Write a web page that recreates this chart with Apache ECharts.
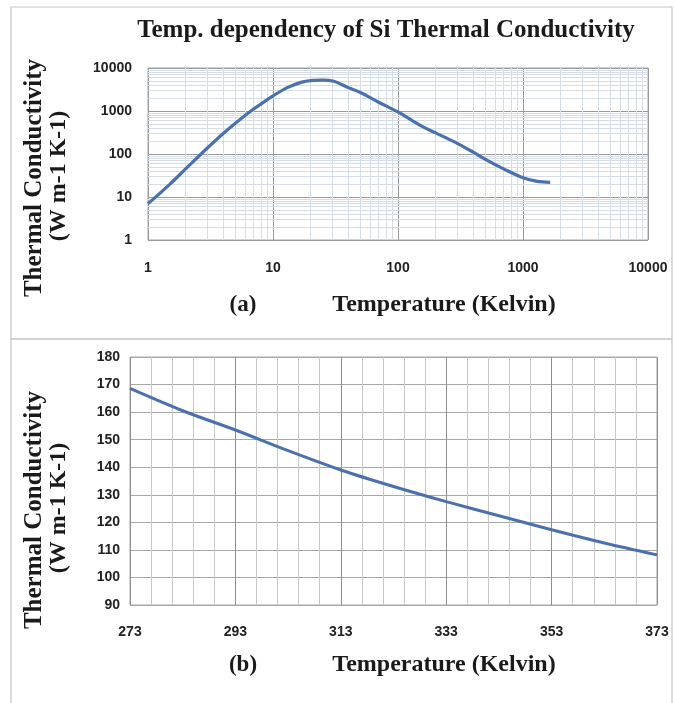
<!DOCTYPE html>
<html>
<head>
<meta charset="utf-8">
<script src="https://cdn.jsdelivr.net/npm/echarts@6/dist/echarts.min.js"></script>
<style>
html,body{margin:0;padding:0;background:#fff;}
#chart{width:675px;height:703px;}
</style>
</head>
<body>
<div id="chart"></div>
<script>
// ---- Data (a): log-log Si thermal conductivity ----
const topTemps = [1, 1.5, 2, 3, 4, 5, 6.5, 8, 10, 13, 17, 20, 25, 30, 40, 50, 70, 100, 130, 160, 200, 300, 400, 500, 700, 1000, 1300, 1650];
const topConductivity = [7, 20, 45, 140, 300, 520, 950, 1450, 2250, 3500, 4700, 5100, 5200, 5000, 3500, 2700, 1600, 950, 600, 420, 310, 175, 110, 75, 45, 28, 23, 22];
const topTickLabels = ['1', '10', '100', '1000', '10000'];
const topMinorGrid = [2,3,4,5,6,7,8,9, 20,30,40,50,60,70,80,90, 200,300,400,500,600,700,800,900, 2000,3000,4000,5000,6000,7000,8000,9000];

// ---- Data (b): 273-373 K ----
const bottomTemps = [273, 283, 293, 303, 313, 323, 333, 343, 353, 363, 373];
const bottomConductivity = [168.6, 160.5, 153.5, 146, 139, 133, 127.5, 122.4, 117.3, 112.5, 108.2];
const bottomXTicks = [273, 293, 313, 333, 353, 373];
const bottomYTicks = [90, 100, 110, 120, 130, 140, 150, 160, 170, 180];

const serif = "'Liberation Serif', 'Times New Roman', serif";
const sansNarrow = "'Liberation Sans Narrow', 'Liberation Sans', Arial, sans-serif";
const lineColor = '#4a70ad';

const chart = echarts.init(document.getElementById('chart'), null, {renderer: 'canvas'});

const tickLabel = {fontFamily: sansNarrow, fontWeight: 'bold', fontSize: 14, color: '#222'};

const option = {
  animation: false,
  backgroundColor: '#fff',
  title: {
    text: 'Temp. dependency of Si Thermal Conductivity',
    left: 381, top: 13, textAlign: 'center',
    textStyle: {fontFamily: serif, fontWeight: 'bold', fontSize: 25, color: '#1a1a1a'}
  },
  grid: [
    {left: 148, top: 68, width: 500, height: 172, show: true, borderColor: '#a6a6a6', borderWidth: 1, backgroundColor: '#fff'},
    {left: 130, top: 357, width: 527, height: 248, show: true, borderColor: '#a6a6a6', borderWidth: 1, backgroundColor: '#fff'}
  ],
  xAxis: [
    {
      gridIndex: 0, type: 'log', logBase: 10, min: 1, max: 10000,
      axisLine: {show: false}, axisTick: {show: false},
      axisLabel: Object.assign({margin: 21, formatter: v => topTickLabels[Math.round(Math.log10(v))]}, tickLabel),
      splitLine: {show: true, lineStyle: {color: '#9a9a9a', width: 1}}
    },
    {
      gridIndex: 1, type: 'value', min: 273, max: 373, interval: 20,
      axisLine: {show: false}, axisTick: {show: false},
      axisLabel: Object.assign({margin: 20, formatter: v => (bottomXTicks.includes(Math.round(v)) ? String(Math.round(v)) : '')}, tickLabel),
      splitLine: {show: true, lineStyle: {color: '#8f8f8f', width: 1}},
      minorTick: {show: false, splitNumber: 5},
      minorSplitLine: {show: true, lineStyle: {color: '#c8c8c8', width: 1}}
    }
  ],
  yAxis: [
    {
      gridIndex: 0, type: 'log', logBase: 10, min: 1, max: 10000,
      axisLine: {show: false}, axisTick: {show: false},
      axisLabel: Object.assign({margin: 16, formatter: v => topTickLabels[Math.round(Math.log10(v))]}, tickLabel),
      splitLine: {show: true, lineStyle: {color: '#9a9a9a', width: 1}}
    },
    {
      gridIndex: 1, type: 'value', min: 90, max: 180, interval: 10,
      axisLine: {show: false}, axisTick: {show: false},
      axisLabel: Object.assign({margin: 10, formatter: v => (bottomYTicks.includes(Math.round(v)) ? String(Math.round(v)) : '')}, tickLabel),
      splitLine: {show: true, lineStyle: {color: '#a8a8a8', width: 1}}
    }
  ],
  series: [
    {
      type: 'line', xAxisIndex: 0, yAxisIndex: 0, data: [], z: 1, silent: true,
      markLine: {
        silent: true, symbol: ['none', 'none'], animation: false,
        label: {show: false},
        lineStyle: {type: 'solid', color: '#d5dde8', width: 1},
        emphasis: {disabled: true},
        data: topMinorGrid.map(v => ({xAxis: v})).concat(topMinorGrid.map(v => ({yAxis: v})))
      }
    },
    {
      type: 'line', xAxisIndex: 0, yAxisIndex: 0, z: 5,
      data: topTemps.map((t, i) => [t, topConductivity[i]]),
      smooth: 0.35, showSymbol: false, symbol: 'none',
      lineStyle: {color: lineColor, width: 3.2}
    },
    {
      type: 'line', xAxisIndex: 1, yAxisIndex: 1, z: 5,
      data: bottomTemps.map((t, i) => [t, bottomConductivity[i]]),
      smooth: 0.3, showSymbol: false, symbol: 'none',
      lineStyle: {color: lineColor, width: 3}
    }
  ],
  graphic: [
    {type: 'rect', shape: {x: 11, y: 7, width: 661, height: 332}, style: {fill: 'none', stroke: '#c4c4c4', lineWidth: 1.2}, z: -1, silent: true},
    {type: 'rect', shape: {x: 11, y: 339, width: 661, height: 370}, style: {fill: 'none', stroke: '#c4c4c4', lineWidth: 1.2}, z: -1, silent: true},
    {type: 'text', x: 35, y: 178, rotation: Math.PI / 2, style: {text: 'Thermal Conductivity', fontFamily: serif, fontWeight: 'bold', fontSize: 25, fill: '#1a1a1a', textAlign: 'center', textVerticalAlign: 'middle'}},
    {type: 'text', x: 59, y: 176, rotation: Math.PI / 2, style: {text: '(W m-1 K-1)', fontFamily: serif, fontWeight: 'bold', fontSize: 24, fill: '#1a1a1a', textAlign: 'center', textVerticalAlign: 'middle'}},
    {type: 'text', x: 243, y: 305, style: {text: '(a)', fontFamily: serif, fontWeight: 'bold', fontSize: 23, fill: '#1a1a1a', textAlign: 'center', textVerticalAlign: 'middle'}},
    {type: 'text', x: 444, y: 305, style: {text: 'Temperature (Kelvin)', fontFamily: serif, fontWeight: 'bold', fontSize: 24, fill: '#1a1a1a', textAlign: 'center', textVerticalAlign: 'middle'}},
    {type: 'text', x: 35, y: 510, rotation: Math.PI / 2, style: {text: 'Thermal Conductivity', fontFamily: serif, fontWeight: 'bold', fontSize: 25, fill: '#1a1a1a', textAlign: 'center', textVerticalAlign: 'middle'}},
    {type: 'text', x: 59, y: 508, rotation: Math.PI / 2, style: {text: '(W m-1 K-1)', fontFamily: serif, fontWeight: 'bold', fontSize: 24, fill: '#1a1a1a', textAlign: 'center', textVerticalAlign: 'middle'}},
    {type: 'text', x: 243, y: 665, style: {text: '(b)', fontFamily: serif, fontWeight: 'bold', fontSize: 23, fill: '#1a1a1a', textAlign: 'center', textVerticalAlign: 'middle'}},
    {type: 'text', x: 444, y: 665, style: {text: 'Temperature (Kelvin)', fontFamily: serif, fontWeight: 'bold', fontSize: 24, fill: '#1a1a1a', textAlign: 'center', textVerticalAlign: 'middle'}}
  ]
};
chart.setOption(option);
</script>
</body>
</html>
